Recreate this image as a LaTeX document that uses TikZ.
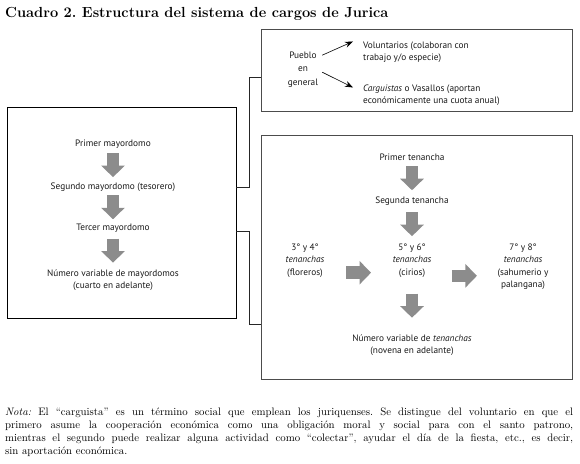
\documentclass[tikz,border=0pt]{standalone}
\usepackage{fontspec}
\setsansfont{PT Sans}
\usetikzlibrary{positioning,arrows.meta,calc}

\begin{document}
\begin{tikzpicture}[x=1pt, y=-1pt,
  font=\sffamily\fontsize{9.3}{12.5}\selectfont,
  frame/.style={draw=black!70, line width=0.9pt, inner sep=0pt},
  lbl/.style={align=center, inner sep=1pt, anchor=base, text=black!90},
  link/.style={draw=black!85, line width=0.7pt},
  blk/.style={-{Triangle[length=11.5pt, width=23pt]}, line width=12.5pt, draw=black!45},
  thin/.style={-{Stealth[length=8pt, width=6pt]}, line width=0.6pt},
]
\useasboundingbox (0,0) rectangle (580,463);

% --- title ---
\node[anchor=base west, inner sep=0pt, font=\rmfamily\bfseries\fontsize{14.6}{16}\selectfont\frenchspacing]
  (titulo) at (5,17) {Cuadro 2. Estructura del sistema de cargos de Jurica};

% --- frames ---
\node[frame, draw=black, minimum width=229pt, minimum height=211pt] (mayor) at (121.5,212.5) {};
\node[frame, minimum width=311pt, minimum height=82pt] (pueblobox) at (416.5,70) {};
\node[frame, minimum width=311pt, minimum height=244pt] (tenbox) at (416.5,257) {};

\draw[link] ([yshift=25.5pt]mayor.east) -- ++(12.5,0) |- ([yshift=-7pt]pueblobox.west);
\draw[link] ([yshift=-18.5pt]mayor.east) -- ++(12.5,0) |- ([yshift=-67pt]tenbox.west);

% --- mayordomos (base = last line) ---
\node[lbl] (m1) at (113,146) {Primer mayordomo};
\node[lbl] (m2) at (113,189) {Segundo mayordomo (tesorero)};
\node[lbl] (m3) at (113,230) {Tercer mayordomo};
\node[lbl] (m4) at (113,288.5) {Número variable de mayordomos\\(cuarto en adelante)};

\draw[blk] ($(m1.south)!.5!(m2.north)$) ++(0,-12) -- ++(0,24);
\draw[blk] ($(m2.south)!.5!(m3.north)$) ++(0,-12) -- ++(0,24);
\draw[blk] ($(m3.south)!.5!(m4.north)$) ++(0,-12) -- ++(0,24);

% --- pueblo en general ---
\node[lbl, font=\sffamily\fontsize{9.3}{13.5}\selectfont] (pueblo) at (303,85) {Pueblo\\en\\general};
\node[lbl, anchor=base west, align=left] (vol) at (362,60.5) {Voluntarios (colaboran con\\trabajo y/o especie)};
\node[lbl, anchor=base west, align=left] (carg) at (362,103.5) {\textit{Carguistas} o Vasallos (aportan\\económicamente una cuota anual)};

\draw[thin] ([shift={(3,-14)}]pueblo.east) -- ([shift={(-9,-10.5)}]vol.west);
\draw[thin] ([shift={(3,3)}]pueblo.east) -- ([shift={(-9,-7.5)}]carg.west);

% --- tenanchas ---
\node[lbl] (t1) at (412,160) {Primer tenancha};
\node[lbl] (t2) at (412,203) {Segunda tenancha};
\node[lbl] (t56) at (412,275) {5° y 6°\\\textit{tenanchas}\\(cirios)};
\node[lbl] (t34) at (305,275) {3° y 4°\\\textit{tenanchas}\\(floreros)};
\node[lbl] (t78) at (523,287.5) {7° y 8°\\\textit{tenanchas}\\(sahumerio y\\palangana)};
\node[lbl] (t9) at (412,353.5) {Número variable de \textit{tenanchas}\\(novena en adelante)};

\draw[blk] ($(t1.south)!.5!(t2.north)$) ++(0,-12) -- ++(0,24);
\draw[blk] ($(t2.south)!.5!(t56.north)$) ++(0,-12) -- ++(0,24);
\draw[blk] ($(t34.east)!.5!(t56.west)$) ++(-12.5,12.5) -- ++(25,0);
\draw[blk] ($(t56.east)!.5!(t78.west)$) ++(-12.5,12.5) -- ++(25,0);
\draw[blk] ($(t56.south)!.5!(t9.north)$) ++(0,-12) -- ++(0,24);

% --- note ---
\node[anchor=base west, inner sep=0pt, text width=568pt, align=justify,
      font=\rmfamily\fontsize{10.8}{13}\selectfont\frenchspacing] (nota) at (5,415)
  {\textit{Nota:} El “carguista” es un término social que emplean los juriquenses. Se distingue del voluntario en que el\linebreak
   primero asume la cooperación económica como una obligación moral y social para con el santo patrono,\linebreak
   mientras el segundo puede realizar alguna actividad como “colectar”, ayudar el día de la fiesta, etc., es decir,\linebreak
   sin aportación económica.};
\end{tikzpicture}
\end{document}
